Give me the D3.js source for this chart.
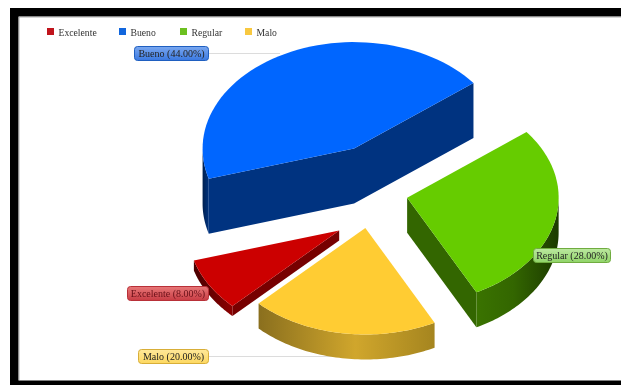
<!DOCTYPE html>
<html><head><meta charset="utf-8">
<script src="https://cdn.jsdelivr.net/npm/d3@7"></script>
<style>html,body{margin:0;padding:0;background:#fff}svg{display:block;filter:blur(.4px)}</style>
</head><body><svg id="c" width="621" height="385"></svg>
<script>
const categories=["Excelente","Bueno","Regular","Malo"];
const values=[8,44,28,20];
const topColors=["#cc0000","#0066ff","#66cc00","#ffcc33"];
const cutColors=["#770000","#003380","#336600","#997a1f"];
const legendColors=["#c0141c","#1166dd","#6cc020","#f8c840"];
const legendX=[47,119,180,245];
const labelBox=[[127,286,82,15],[134,46,75,15],[533,248,78,15],[138,349,71,15]];
const labelFill=[["#e87878","#c83c44"],["#7aa8f0","#3a78e0"],["#bce8a0","#90d468"],["#ffe89a","#fdd860"]];
const labelStroke=["#b83038","#1f5fc0","#70ac40","#d8ae38"];
const leaderEnd=[232,280,null,340];
const wallStops=[
  [["0","#4a0000"],["1","#8c0000"]],
  [["0","#00204f"],["1","#003380"]],
  [["0","#3a7300"],["0.45","#336600"],["1","#1c3a00"]],
  [["0","#8a6f1e"],["0.55","#d0a62c"],["1","#a5851f"]]
];

const svg=d3.select("#c");
const defs=svg.append("defs");
const W=621,H=385;
svg.append("rect").attr("width",W).attr("height",H).attr("fill","#fff");
svg.append("rect").attr("x",10).attr("y",8).attr("width",W-10).attr("height",8.5).attr("fill","#000");
svg.append("rect").attr("x",10).attr("y",8).attr("width",8.5).attr("height",H-8).attr("fill","#000");
svg.append("rect").attr("x",10).attr("y",380.5).attr("width",W-10).attr("height",4.5).attr("fill","#000");
svg.append("path").attr("d","M19 380V17H621").attr("fill","none").attr("stroke","#999").attr("stroke-width",.8);

const cx=371,cy=227,rx=151.5,ry=106.5,ex=37,ey=26.3;
const rad=d3.scaleLinear([0,360],[0,2*Math.PI]);
const depth=d3.scaleLinear([0,100],[0,125]);
const start=rad(224.8);
const arcs=d3.pie().sort(null).startAngle(start).endAngle(start+2*Math.PI)(values);
const pt=a=>[rx*Math.sin(a),-ry*Math.cos(a)];
const line=d3.line();
const TWO=2*Math.PI;

[1,2,0,3].forEach(i=>{
  const d=arcs[i],h=depth(values[i]),mid=(d.startAngle+d.endAngle)/2;
  const ox=cx+ex*Math.sin(mid),oy=cy-ey*Math.cos(mid);
  const g=svg.append("g").attr("transform",`translate(${ox},${oy})`);
  const A=d.startAngle,B=d.endAngle;
  const sample=(a,b)=>d3.range(0,61).map(k=>pt(a+(b-a)*k/60));
  // radial cut walls: drawn when the wall's outward side faces the viewer
  const cuts=[[A,-1],[B,1]].filter(([a,s])=>s*Math.sin(a)>0).map(([a])=>pt(a));
  if(cuts.length){
    const poly=cuts.length===2
      ? [cuts[0],[0,0],cuts[1],[cuts[1][0],cuts[1][1]-h],[0,-h],[cuts[0][0],cuts[0][1]-h]]
      : [[0,0],cuts[0],[cuts[0][0],cuts[0][1]-h],[0,-h]];
    g.append("path").attr("d",line(poly)+"Z").attr("fill",cutColors[i]);
  }
  // outer wall: the part of the rim on the front half of the ellipse
  for(let k=-1;k<=2;k++){
    const a=Math.max(A,Math.PI/2+k*TWO),b=Math.min(B,3*Math.PI/2+k*TWO);
    if(b<=a) continue;
    const lower=sample(a,b),upper=lower.map(p=>[p[0],p[1]-h]).reverse();
    const xs=lower.map(p=>p[0]);
    const id=`w${i}${k+1}`;
    const lg=defs.append("linearGradient").attr("id",id).attr("gradientUnits","userSpaceOnUse")
      .attr("x1",d3.min(xs)).attr("x2",d3.max(xs)).attr("y1",0).attr("y2",0);
    wallStops[i].forEach(s=>lg.append("stop").attr("offset",s[0]).attr("stop-color",s[1]));
    g.append("path").attr("d",line(lower.concat(upper))+"Z").attr("fill",`url(#${id})`);
  }
  // top surface
  const top=[[0,0]].concat(sample(A,B)).map(p=>[p[0],p[1]-h]);
  g.append("path").attr("d",line(top)+"Z").attr("fill",topColors[i]);
});

// legend
categories.forEach((c,i)=>{
  svg.append("rect").attr("x",legendX[i]).attr("y",28).attr("width",7).attr("height",7).attr("fill",legendColors[i]);
  svg.append("text").attr("x",legendX[i]+11.5).attr("y",35.5).text(c)
    .attr("font-family","'Liberation Serif',serif").attr("font-size",9.7).attr("fill","#333");
});

// data labels
categories.forEach((c,i)=>{
  const [x,y,w,ht]=labelBox[i];
  if(leaderEnd[i]!==null){
    svg.insert("line","g").attr("x1",x+w).attr("x2",leaderEnd[i]).attr("y1",y+ht/2).attr("y2",y+ht/2)
      .attr("stroke","#dcdcdc").attr("stroke-width",1);
  }
  const id=`lab${i}`;
  const lg=defs.append("linearGradient").attr("id",id).attr("x1",0).attr("x2",0).attr("y1",0).attr("y2",1);
  lg.append("stop").attr("offset",0).attr("stop-color",labelFill[i][0]);
  lg.append("stop").attr("offset",1).attr("stop-color",labelFill[i][1]);
  svg.append("rect").attr("x",x+.5).attr("y",y+.5).attr("width",w-1).attr("height",ht-1).attr("rx",3)
    .attr("fill",`url(#${id})`).attr("stroke",labelStroke[i]).attr("stroke-width",1);
  svg.append("text").attr("x",x+w/2).attr("y",y+ht/2+3.5).attr("text-anchor","middle")
    .text(`${c} (${values[i].toFixed(2)}%)`)
    .attr("font-family","'Liberation Serif',serif").attr("font-size",10)
    .attr("fill",i===0?"#6a1018":"#222");
});
</script></body></html>
